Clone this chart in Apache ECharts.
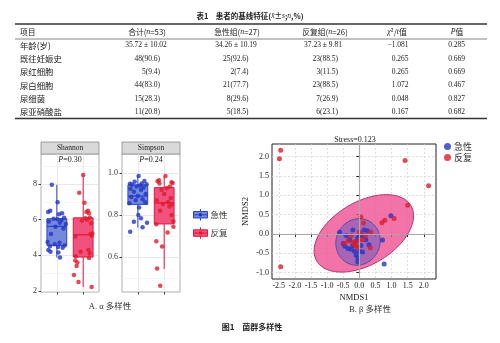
<!DOCTYPE html>
<html><head><meta charset="utf-8">
<script src="https://cdn.jsdelivr.net/npm/echarts@6/dist/echarts.min.js"></script>
<style>html,body{margin:0;padding:0;background:#fff}#c{width:500px;height:343px}</style>
</head><body><div id="c"></div>
<script>
// ---------- data ----------
const groups = ['急性', '反复'];
const tableTitle = '{b|表1}　{b|患者的基线特征(}{i|x̄}{b|±}{i|s}{b|;}{i|n}{b|,%)}';
const tableHeader = ['项目', '合计({i|n}=53)', '急性组({i|n}=27)', '反复组({i|n}=26)', '{i|χ}²/{i|t}值', '{i|P}值'];
const rowLabels = ['年龄(岁)', '既往妊娠史', '尿红细胞', '尿白细胞', '尿细菌', '尿亚硝酸盐'];
const colTotal = ['35.72 ± 10.02', '48(90.6)', '5(9.4)', '44(83.0)', '15(28.3)', '11(20.8)'];
const colAcute = ['34.26 ± 10.19', '25(92.6)', '2(7.4)', '21(77.7)', '8(29.6)', '5(18.5)'];
const colRecur = ['37.23 ± 9.81', '23(88.5)', '3(11.5)', '23(88.5)', '7(26.9)', '6(23.1)'];
const colStat = ['−1.081', '0.265', '0.265', '1.072', '0.048', '0.167'];
const colP = ['0.285', '0.669', '0.669', '0.467', '0.827', '0.682'];

// box stats: [group, lowerWhisker, Q1, median, Q3, upperWhisker]
const shannonBox = [[1, 3.88, 4.55, 5.62, 6.05, 7.95], [2, 2.22, 3.9, 5.15, 6.1, 8.5]];
const simpsonBox = [[1, 0.74, 0.85, 0.89, 0.943, 0.985], [2, 0.543, 0.757, 0.857, 0.93, 0.985]];

const shannonAcute = [7.95, 6.98, 6.50, 6.42, 6.35, 6.30, 6.10, 6.05, 6.02, 5.98, 5.90, 5.82, 5.75, 5.60, 5.50, 5.20, 4.75, 4.70, 4.62, 4.55, 4.50, 4.47, 4.42, 4.30, 4.20, 4.15, 3.88];
const shannonAcuteJit = [-0.19, 0.03, -0.25, -0.33, 0.20, 0.08, 0.28, -0.12, 0.02, 0.18, -0.30, 0.12, 0.34, -0.05, 0.25, -0.22, -0.35, 0.10, -0.08, 0.30, -0.26, 0.05, 0.22, -0.32, -0.24, 0.06, 0.12];
const shannonRecur = [8.50, 7.50, 6.95, 6.50, 6.42, 6.35, 6.12, 6.08, 6.00, 5.95, 5.80, 5.22, 5.20, 5.10, 5.05, 4.30, 4.20, 4.10, 3.95, 3.85, 3.70, 3.60, 3.40, 2.90, 2.50, 2.22];
const shannonRecurJit = [0.00, -0.15, 0.05, 0.18, 0.12, 0.22, 0.25, 0.08, 0.15, -0.05, 0.30, 0.35, 0.28, 0.32, -0.30, 0.20, -0.10, 0.25, -0.28, 0.22, -0.30, -0.22, -0.25, -0.35, -0.18, 0.32];

const simpsonAcute = [0.985, 0.962, 0.958, 0.950, 0.948, 0.946, 0.945, 0.940, 0.935, 0.930, 0.925, 0.920, 0.910, 0.900, 0.890, 0.885, 0.875, 0.870, 0.860, 0.855, 0.835, 0.800, 0.784, 0.768, 0.763, 0.741, 0.720];
const simpsonAcuteJit = [0.03, 0.25, -0.12, 0.15, -0.30, 0.33, -0.22, 0.08, -0.05, 0.22, -0.28, 0.12, -0.15, 0.30, 0.00, -0.25, 0.18, -0.08, 0.28, -0.32, 0.05, 0.02, 0.12, -0.15, 0.35, 0.18, -0.29];
const simpsonRecur = [0.985, 0.965, 0.960, 0.955, 0.952, 0.950, 0.935, 0.928, 0.920, 0.900, 0.880, 0.870, 0.862, 0.852, 0.850, 0.840, 0.820, 0.800, 0.770, 0.755, 0.744, 0.716, 0.675, 0.650, 0.545, 0.463];
const simpsonRecurJit = [0.05, -0.20, -0.25, 0.28, 0.32, -0.18, 0.22, 0.10, -0.10, 0.00, 0.25, -0.28, 0.15, -0.05, 0.30, 0.20, -0.15, 0.28, 0.35, -0.30, 0.35, 0.13, -0.30, -0.08, -0.27, -0.15];

const nmdsAcute = [[0.98, 0.47], [0.77, -0.78], [0.72, -0.16], [-0.61, 0.04], [-0.45, -0.32], [-0.35, -0.38], [-0.30, -0.15], [-0.20, 0.10], [-0.15, -0.45], [-0.10, -0.55], [-0.05, -0.72], [-0.05, -0.62], [0.00, -0.45], [0.10, -0.47], [0.05, -0.30], [0.20, -0.15], [0.25, 0.08], [0.15, 0.10], [-0.05, -0.10], [-0.10, -0.20], [0.00, -0.05], [-0.25, -0.40], [-0.40, -0.05], [0.30, -0.28], [-0.20, -0.30], [0.10, -0.05], [-0.50, -0.25]];
const nmdsRecur = [[-2.44, 2.17], [-2.48, 1.95], [-2.44, -0.85], [1.42, 1.90], [2.15, 1.25], [1.50, 0.74], [1.08, 0.40], [0.79, 0.35], [0.70, 0.29], [0.05, 0.44], [0.13, 0.28], [0.36, 0.05], [0.34, -0.36], [-0.25, -0.05], [-0.15, -0.28], [-0.10, -0.32], [-0.20, -0.22], [0.00, -0.15], [0.10, -0.15], [0.05, 0.02], [-0.35, -0.18], [-0.47, -0.25], [0.20, -0.05], [-0.05, -0.35], [0.00, 0.05], [-0.12, -0.20]];
// ellipse: [cx, cy, ax, ay, bx, by] (conjugate semi-axis vectors in data units)
const ellipseRecur = [0.14, 0.013, 1.46, 0.72, -0.50, 0.70];
const ellipseAcute = [-0.04, -0.21, 0.68, 0.13, -0.11, 0.59];

const shannonTicks = [2, 4, 6, 8], shannonMinor = [3, 5, 7, 9];
const simpsonTicks = [0.6, 0.8, 1.0], simpsonMinor = [0.5, 0.7, 0.9];
const nmdsXTicks = [-2.5, -2.0, -1.5, -1.0, -0.5, 0.0, 0.5, 1.0, 1.5, 2.0];
const nmdsYTicks = [-1.0, -0.5, 0.0, 0.5, 1.0, 1.5, 2.0];
const stressText = 'Stress=0.123';
const pShannon = '0.30', pSimpson = '0.24';

// ---------- style ----------
const serif = "'Liberation Serif','Times New Roman','Noto Sans CJK SC',serif";
const cjk = "'Noto Sans CJK SC',sans-serif";
const blueBoxFill = '#7389dd', blueStroke = '#2a45c8', bluePt = '#2236c4';
const redBoxFill = '#f1517d', redStroke = '#e3163e', redPt = '#de1b2b';

const chart = echarts.init(document.getElementById('c'), null, { renderer: 'canvas' });

function jitterData(vals, jit, g) { return vals.map((v, i) => [g + jit[i], v]); }

function boxRender(params, api) {
  const x = api.value(0);
  const lo = api.coord([x, api.value(1)]), q1 = api.coord([x, api.value(2)]);
  const md = api.coord([x, api.value(3)]), q3 = api.coord([x, api.value(4)]);
  const hi = api.coord([x, api.value(5)]);
  const hw = api.size([0.375, 0])[0];
  const stroke = x === 1 ? blueStroke : redStroke;
  const fill = x === 1 ? blueBoxFill : redBoxFill;
  return { type: 'group', children: [
    { type: 'line', shape: { x1: lo[0], y1: lo[1], x2: q1[0], y2: q1[1] }, style: { stroke, lineWidth: 1 } },
    { type: 'line', shape: { x1: q3[0], y1: q3[1], x2: hi[0], y2: hi[1] }, style: { stroke, lineWidth: 1 } },
    { type: 'rect', shape: { x: q3[0] - hw, y: q3[1], width: 2 * hw, height: q1[1] - q3[1] }, style: { fill, stroke, lineWidth: 1 } },
    { type: 'line', shape: { x1: md[0] - hw, y1: md[1], x2: md[0] + hw, y2: md[1] }, style: { stroke, lineWidth: 1.3 } }
  ] };
}

function ellipseRender(params, api) {
  const v = [0, 1, 2, 3, 4, 5].map(i => api.value(i));
  const pts = [];
  for (let k = 0; k < 120; k++) {
    const t = 2 * Math.PI * k / 120;
    pts.push(api.coord([v[0] + v[2] * Math.cos(t) + v[4] * Math.sin(t), v[1] + v[3] * Math.cos(t) + v[5] * Math.sin(t)]));
  }
  const red = params.seriesName === 'ellRecur';
  return { type: 'polygon', shape: { points: pts },
    style: red ? { fill: 'rgba(238,80,146,0.8)', stroke: '#b8336a', lineWidth: 1 }
               : { fill: 'rgba(80,85,200,0.45)', stroke: '#5b4a9c', lineWidth: 1 } };
}

function boxXAxis(gi) {
  return { type: 'value', gridIndex: gi, min: 0.4, max: 2.6,
    axisLine: { show: false },
    axisTick: { show: true, length: 2.5, customValues: [1, 2], lineStyle: { color: '#444' } },
    axisLabel: { show: false },
    splitLine: { show: true, lineStyle: { color: '#e4e4e4', width: 0.8 } } };
}
function boxYAxis(gi, min, max, ticks, fmt) {
  return { type: 'value', gridIndex: gi, min, max,
    axisLine: { show: false },
    axisTick: { show: true, length: 2.5, customValues: ticks, lineStyle: { color: '#444' } },
    axisLabel: { customValues: ticks, fontSize: 8, fontFamily: serif, color: '#333', margin: 4, formatter: fmt },
    splitLine: { show: true, lineStyle: { color: '#e2e2e2', width: 0.8 } } };
}
function minorYAxis(gi, min, max, ticks) {
  return { type: 'value', gridIndex: gi, min, max,
    axisLine: { show: false }, axisLabel: { show: false },
    axisTick: { show: false, customValues: ticks },
    splitLine: { show: true, lineStyle: { color: '#f1f1f1', width: 0.7 } } };
}

// ---------- graphics (table, strips, captions, legend) ----------
const g = [];
function txt(x, y, text, opt) {
  g.push({ type: 'text', x, y, silent: true, style: Object.assign({ text, fill: '#222', fontSize: 7.5, fontFamily: serif, align: 'center', verticalAlign: 'middle' }, opt || {}) });
}
function ln(x1, y1, x2, y2, w, c) {
  g.push({ type: 'line', silent: true, shape: { x1, y1, x2, y2 }, style: { stroke: c || '#333', lineWidth: w } });
}

txt(250, 16, tableTitle, { fontFamily: cjk, fontWeight: 'bold', fontSize: 7.5, rich: { i: { fontStyle: 'italic', fontSize: 7.5, fontFamily: serif }, b: { fontSize: 7.5, fontFamily: cjk, fontWeight: 'bold' } } });
ln(15, 24, 487, 24, 1.3);
ln(15, 39, 487, 39, 0.6);
ln(15, 118.5, 487, 118.5, 1.3);
const headX = [20, 147, 237, 325, 397, 457];
tableHeader.forEach((h, i) => {
  txt(headX[i], 32, h, { align: i === 0 ? 'left' : 'center', fontFamily: cjk, fontSize: 7.8,
    rich: { i: { fontStyle: 'italic', fontSize: 7.8, fontFamily: serif } } });
});
const rowY = [45.5, 59, 72, 85.5, 99, 112];
rowLabels.forEach((r, i) => {
  const y = rowY[i];
  txt(20, y, r, { align: 'left', fontFamily: cjk, fontSize: 8.4 });
  if (i === 0) {
    txt(146, y, colTotal[i]); txt(236, y, colAcute[i]); txt(323, y, colRecur[i]);
  } else {
    txt(160, y, colTotal[i], { align: 'right' }); txt(248.5, y, colAcute[i], { align: 'right' }); txt(338, y, colRecur[i], { align: 'right' });
  }
  txt(408.5, y, colStat[i], { align: 'right' });
  txt(465, y, colP[i], { align: 'right' });
});

// strips
[[41, 'Shannon'], [122, 'Simpson']].forEach(([x, name]) => {
  g.push({ type: 'rect', silent: true, shape: { x: x, y: 142, width: 58, height: 12 }, style: { fill: '#d9d9d9', stroke: '#8a8a8a', lineWidth: 0.8 } });
  txt(x + 29, 148.3, name, { fontSize: 7.5, fill: '#1a1a1a' });
});
txt(70, 159.5, '{i|P}=' + pShannon, { fontSize: 8, rich: { i: { fontStyle: 'italic', fontSize: 8, fontFamily: serif } } });
txt(151, 159.5, '{i|P}=' + pSimpson, { fontSize: 8, rich: { i: { fontStyle: 'italic', fontSize: 8, fontFamily: serif } } });

// box legend
[[211.5, blueBoxFill, blueStroke, bluePt, groups[0]], [229.8, redBoxFill, redStroke, redPt, groups[1]]].forEach(([y, f, s, p, name]) => {
  ln(200.5, y - 2.5, 200.5, y + 9, 1, s);
  g.push({ type: 'rect', silent: true, shape: { x: 193.5, y: y, width: 14, height: 6.5 }, style: { fill: f, stroke: s, lineWidth: 1 } });
  ln(193.5, y + 3.25, 207.5, y + 3.25, 1, s);
  g.push({ type: 'circle', silent: true, shape: { cx: 200.5, cy: y + 3.25, r: 1.8 }, style: { fill: p } });
  txt(210.5, y + 3.4, name, { align: 'left', fontFamily: cjk, fontSize: 8.5, fill: '#333' });
});

txt(355, 140, stressText, { fontSize: 8, fill: '#222' });
txt(110, 307, 'A. α 多样性', { fontFamily: serif, fontSize: 8.5, fill: '#333' });
txt(370, 310, 'B. β 多样性', { fontFamily: serif, fontSize: 8.5, fill: '#333' });
txt(252, 327, '图1　菌群多样性', { fontFamily: cjk, fontSize: 8, fontWeight: 'bold', fill: '#222' });

// ---------- option ----------
const option = {
  animation: false,
  backgroundColor: '#fff',
  grid: [
    { left: 41, top: 154, width: 58, height: 138, show: true, borderColor: '#9a9a9a', borderWidth: 0.8, backgroundColor: '#fff' },
    { left: 122, top: 154, width: 58, height: 138, show: true, borderColor: '#9a9a9a', borderWidth: 0.8, backgroundColor: '#fff' },
    { left: 272, top: 144, width: 164, height: 135, show: true, borderColor: '#222', borderWidth: 1, backgroundColor: '#fff' }
  ],
  xAxis: [
    boxXAxis(0), boxXAxis(1),
    { type: 'value', gridIndex: 2, min: -2.71, max: 2.38, name: 'NMDS1', nameLocation: 'middle', nameGap: 15,
      nameTextStyle: { fontFamily: serif, fontSize: 8.5, color: '#222' },
      axisLine: { show: false },
      axisTick: { show: true, length: 3, customValues: nmdsXTicks, lineStyle: { color: '#222' } },
      axisLabel: { customValues: nmdsXTicks, fontSize: 8, fontFamily: serif, color: '#222', margin: 3, formatter: v => v.toFixed(1) },
      splitLine: { show: true, lineStyle: { color: '#d6d6d6', type: [2, 2], width: 0.8 } } }
  ],
  yAxis: [
    boxYAxis(0, 1.94, 9.68, shannonTicks, v => String(v)),
    minorYAxis(0, 1.94, 9.68, shannonMinor),
    boxYAxis(1, 0.433, 1.09, simpsonTicks, v => v.toFixed(1)),
    minorYAxis(1, 0.433, 1.09, simpsonMinor),
    { type: 'value', gridIndex: 2, min: -1.17, max: 2.33, name: 'NMDS2', nameLocation: 'middle', nameGap: 22, nameRotate: 90,
      nameTextStyle: { fontFamily: serif, fontSize: 8.5, color: '#222' },
      axisLine: { show: false },
      axisTick: { show: true, length: 3, customValues: nmdsYTicks, lineStyle: { color: '#222' } },
      axisLabel: { customValues: nmdsYTicks, fontSize: 8, fontFamily: serif, color: '#222', margin: 3, formatter: v => v.toFixed(1) },
      splitLine: { show: true, lineStyle: { color: '#d6d6d6', type: [2, 2], width: 0.8 } } }
  ],
  legend: {
    data: ['nmds' + groups[0], 'nmds' + groups[1]].map(n => ({ name: n, icon: 'circle' })),
    formatter: n => n.replace('nmds', ''),
    orient: 'vertical', left: 444, top: 142, itemWidth: 7, itemHeight: 7, itemGap: 2, padding: 0,
    textStyle: { fontFamily: cjk, fontSize: 9, color: '#333', padding: [0, 0, 0, -2] }
  },
  series: [
    { type: 'custom', name: 'shBox', xAxisIndex: 0, yAxisIndex: 0, renderItem: boxRender, data: shannonBox, z: 2, silent: true },
    { type: 'scatter', name: 'sh' + groups[0], xAxisIndex: 0, yAxisIndex: 0, data: jitterData(shannonAcute, shannonAcuteJit, 1), symbolSize: 4.5, itemStyle: { color: bluePt }, z: 3 },
    { type: 'scatter', name: 'sh' + groups[1], xAxisIndex: 0, yAxisIndex: 0, data: jitterData(shannonRecur, shannonRecurJit, 2), symbolSize: 4.5, itemStyle: { color: redPt }, z: 3 },
    { type: 'custom', name: 'siBox', xAxisIndex: 1, yAxisIndex: 2, renderItem: boxRender, data: simpsonBox, z: 2, silent: true },
    { type: 'scatter', name: 'si' + groups[0], xAxisIndex: 1, yAxisIndex: 2, data: jitterData(simpsonAcute, simpsonAcuteJit, 1), symbolSize: 4.5, itemStyle: { color: bluePt }, z: 3 },
    { type: 'scatter', name: 'si' + groups[1], xAxisIndex: 1, yAxisIndex: 2, data: jitterData(simpsonRecur, simpsonRecurJit, 2), symbolSize: 4.5, itemStyle: { color: redPt }, z: 3 },
    { type: 'scatter', name: 'zero', xAxisIndex: 2, yAxisIndex: 4, data: [], z: 1, silent: true,
      markLine: { silent: true, symbol: 'none', label: { show: false }, animation: false,
        lineStyle: { color: '#a8a8a8', type: 'solid', width: 1.2 }, data: [{ xAxis: 0 }, { yAxis: 0 }] } },
    { type: 'custom', name: 'ellRecur', xAxisIndex: 2, yAxisIndex: 4, renderItem: ellipseRender, data: [ellipseRecur], z: 2, silent: true },
    { type: 'custom', name: 'ellAcute', xAxisIndex: 2, yAxisIndex: 4, renderItem: ellipseRender, data: [ellipseAcute], z: 2, silent: true },
    { type: 'scatter', name: 'nmds' + groups[0], xAxisIndex: 2, yAxisIndex: 4, data: nmdsAcute, symbolSize: 5, itemStyle: { color: bluePt }, z: 4 },
    { type: 'scatter', name: 'nmds' + groups[1], xAxisIndex: 2, yAxisIndex: 4, data: nmdsRecur, symbolSize: 5, itemStyle: { color: redPt }, z: 4 }
  ],
  graphic: g
};
chart.setOption(option);
</script>
</body></html>
